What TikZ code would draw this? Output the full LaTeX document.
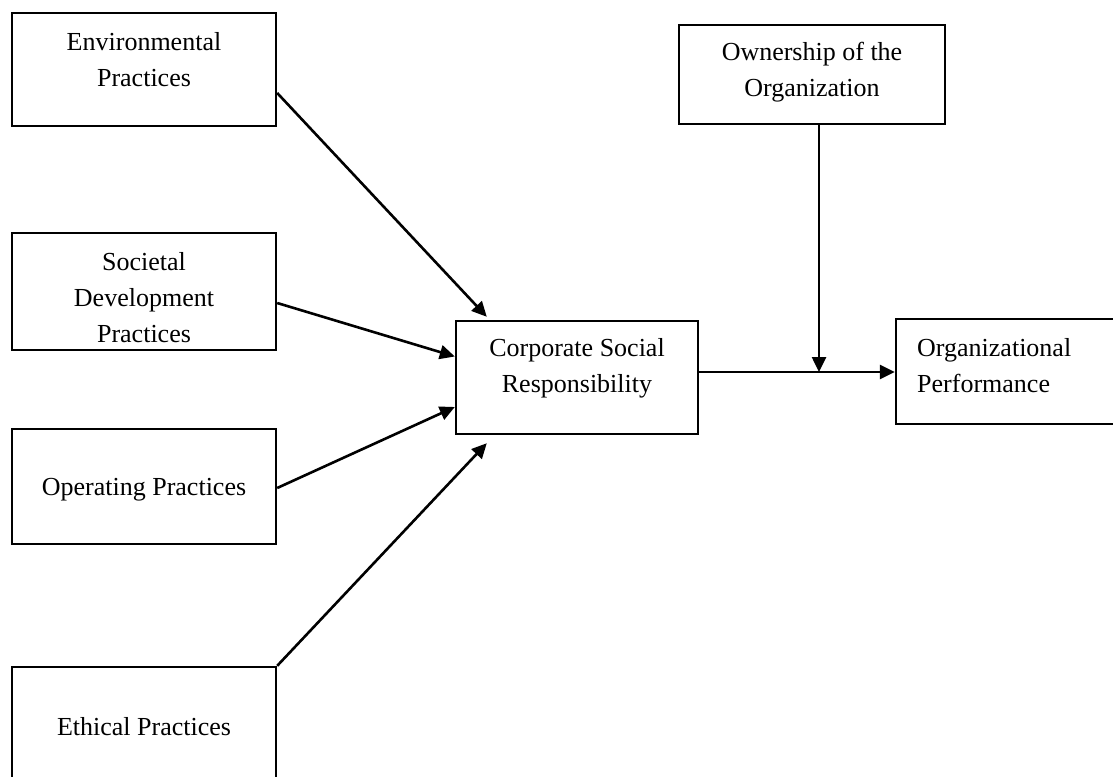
\documentclass[tikz,border=0pt]{standalone}
\usepackage{fontspec}
\setmainfont{Liberation Serif}
\usetikzlibrary{arrows.meta}
\begin{document}
\begin{tikzpicture}[x=1pt,y=-1pt,
  box/.style={draw=black,line width=2.4pt,inner sep=0pt},
  lbl/.style={font=\fontsize{26}{36}\selectfont,align=center,inner sep=0pt},
  arr/.style={line width=2.6pt,-{Triangle[length=15pt,width=14pt]}}]
\useasboundingbox (0,0) rectangle (1113,776);
% boxes
\node[box,minimum width=264pt,minimum height=113pt] (env) at (144,69.5) {};
\node[box,minimum width=264pt,minimum height=117pt] (soc) at (144,291.5) {};
\node[box,minimum width=264pt,minimum height=115pt] (op) at (144,486.5) {};
\node[box,minimum width=264pt,minimum height=130pt] (eth) at (144,732) {};
\node[box,minimum width=242pt,minimum height=113pt] (csr) at (577,377.5) {};
\node[box,minimum width=266pt,minimum height=99pt] (own) at (812,74.5) {};
\node[box,minimum width=240pt,minimum height=105pt] (perf) at (1016,371.5) {};
% texts
\node[lbl] (envt) at (144,60) {Environmental\\Practices};
\node[lbl] (soct) at (144,298) {Societal\\Development\\Practices};
\node[lbl] (opt) at (144,490) {Operating Practices};
\node[lbl] (etht) at (144,727) {Ethical Practices};
\node[lbl] (csrt) at (577,368) {Corporate Social\\Responsibility};
\node[lbl] (ownt) at (812,72) {Ownership of the\\Organization};
\node[lbl,align=left,anchor=west] (perft) at (917,366) {Organizational\\Performance};
% connectors
\draw[arr] ([yshift=-23.5pt]env.east) -- ([xshift=32pt,yshift=3pt]csr.north west);
\draw[arr] ([yshift=-11.5pt]soc.east) -- ([yshift=21pt]csr.west);
\draw[arr] ([yshift=-1.5pt]op.east) -- ([yshift=-29.5pt]csr.west);
\draw[arr] (eth.north east) -- ([xshift=32pt,yshift=-8pt]csr.south west);
\coordinate (mid) at (819,372);
\draw[arr] ([yshift=5.5pt]csr.east) -- (perf.west|-mid);
\draw[arr] ([xshift=7pt]own.south) -- (mid);
\end{tikzpicture}
\end{document}
